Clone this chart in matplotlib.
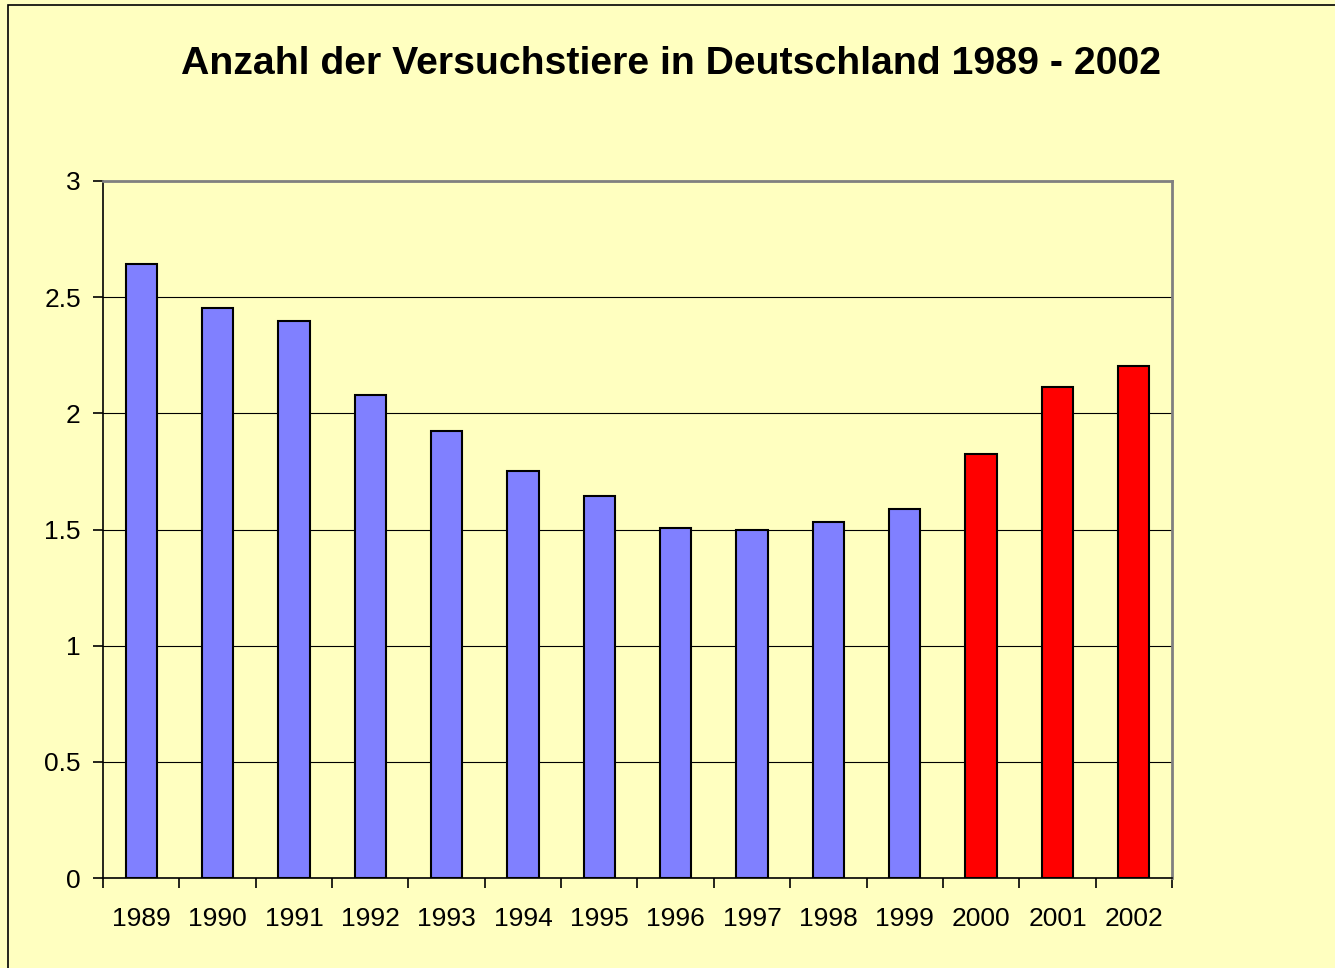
import matplotlib
matplotlib.use('Agg')
import matplotlib.pyplot as plt
from matplotlib.patches import Rectangle

# data (Mio. Tiere)
years = ['1989', '1990', '1991', '1992', '1993', '1994', '1995',
         '1996', '1997', '1998', '1999', '2000', '2001', '2002']
values = [2.643, 2.454, 2.398, 2.079, 1.924, 1.752, 1.644,
          1.507, 1.498, 1.533, 1.588, 1.825, 2.114, 2.204]
colors = ['#8080FF'] * 11 + ['#FF0000'] * 3

BG = '#FFFFC0'
plt.rcParams['font.family'] = ['Liberation Sans', 'DejaVu Sans']

fig = plt.figure(figsize=(13.35, 9.68), dpi=100, facecolor=BG)
# Rahmen um das Diagramm
fig.patches.append(Rectangle((8 / 1335, -0.01), 2, 1.0 - 5 / 968 + 0.01,
                             transform=fig.transFigure, fill=False,
                             edgecolor='black', linewidth=1.2))

ax = fig.add_axes([103 / 1335, 90 / 968, 1069 / 1335, 697 / 968])
ax.set_facecolor(BG)

x = list(range(len(years)))
ax.bar(x, values, width=0.41, color=colors, edgecolor='black', linewidth=1.5, zorder=3)

ax.set_xlim(-0.5, len(years) - 0.5)
ax.set_ylim(0, 3)
ax.set_yticks([0, 0.5, 1, 1.5, 2, 2.5, 3])
ax.set_yticklabels(['0', '0.5', '1', '1.5', '2', '2.5', '3'])
ax.yaxis.grid(True, color='black', linewidth=0.8, zorder=0)

# x ticks between categories, labels centred
ax.set_xticks([i - 0.5 for i in range(len(years) + 1)])
ax.set_xticklabels([])
ax.set_xticks(x, minor=True)
ax.set_xticklabels(years, minor=True)
ax.tick_params(axis='x', which='minor', length=0, pad=21, labelsize=19)
ax.tick_params(axis='x', which='major', length=7, width=1.2, direction='out')
ax.tick_params(axis='y', length=7, width=1.2, direction='out', labelsize=19, pad=9)

for s in ['left', 'bottom']:
    ax.spines[s].set_color('black')
    ax.spines[s].set_linewidth(1.2)
for s in ['top', 'right']:
    ax.spines[s].set_color('#808080')
    ax.spines[s].set_linewidth(2)

fig.text(671 / 1335, 1 - 64 / 968, 'Anzahl der Versuchstiere in Deutschland 1989 - 2002',
         ha='center', va='center', fontsize=28.3, fontweight='bold')

fig.savefig('out.png', dpi=100, facecolor=BG)
